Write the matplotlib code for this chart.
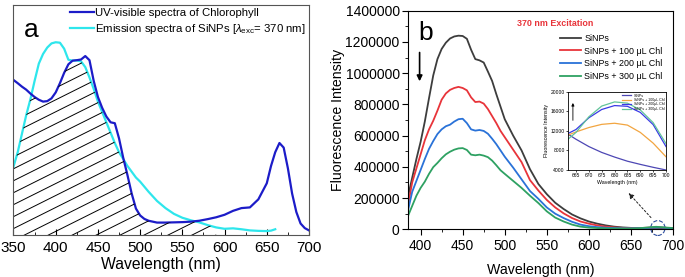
import numpy as np
import matplotlib
matplotlib.use('Agg')
import matplotlib.pyplot as plt
from matplotlib.patches import Ellipse
from matplotlib.ticker import MultipleLocator

plt.rcParams['font.family'] = 'Liberation Sans'
plt.rcParams['mathtext.fontset'] = 'custom'
plt.rcParams['mathtext.rm'] = 'Liberation Sans'
plt.rcParams['mathtext.it'] = 'Liberation Sans:italic'

# ---- panel a: absorbance of chlorophyll and emission of SiNPs (normalised) ----
wl_a = [350, 355, 360, 365, 370, 375, 380, 385, 390, 395, 400, 405, 410, 415, 420,
        425, 430, 435, 440, 445, 450, 455, 460, 465, 470, 475, 480, 485, 490, 495,
        500, 505, 510, 520, 530, 540, 550, 560, 570, 580, 590, 600, 610, 620, 630,
        640, 650, 655, 660, 665, 670, 675, 680, 685, 690, 695, 700]
chl = [0.674, 0.66, 0.645, 0.632, 0.615, 0.60, 0.588, 0.58, 0.582, 0.594, 0.62, 0.66,
       0.705, 0.742, 0.758, 0.76, 0.763, 0.778, 0.76, 0.67, 0.60, 0.553, 0.515, 0.49,
       0.486, 0.42, 0.335, 0.26, 0.18, 0.115, 0.085, 0.07, 0.062, 0.054, 0.054, 0.055,
       0.056, 0.058, 0.062, 0.069, 0.077, 0.088, 0.105, 0.117, 0.12, 0.155, 0.225,
       0.30, 0.36, 0.40, 0.38, 0.29, 0.18, 0.10, 0.05, 0.03, 0.02]
# emission spectrum stops at 660 nm
emis = [0.297, 0.36, 0.44, 0.52, 0.59, 0.67, 0.745, 0.787, 0.815, 0.833, 0.838, 0.836,
        0.81, 0.762, 0.758, 0.759, 0.755, 0.73, 0.685, 0.635, 0.58, 0.535, 0.49, 0.445,
        0.40, 0.36, 0.33, 0.30, 0.275, 0.25, 0.232, 0.21, 0.188, 0.148, 0.117, 0.092,
        0.075, 0.064, 0.055, 0.043, 0.033, 0.027, 0.029, 0.025, 0.02, 0.018, 0.017,
        0.019, 0.025]
hatch_end = 590

# ---- panel b: SiNPs emission quenched by chlorophyll ----
wl_b = [385, 390, 395, 400, 405, 410, 415, 420, 425, 430, 435, 440, 445, 450, 455,
        460, 465, 470, 475, 480, 485, 490, 495, 500, 510, 520, 530, 540, 550, 560,
        570, 580, 590, 600, 610, 620, 630, 640, 650, 660, 670, 680, 690, 700]
sinps = [210, 330, 450, 560, 690, 840, 985, 1090, 1155, 1195, 1222, 1235, 1240, 1238,
         1220, 1150, 1090, 1082, 1068, 1010, 950, 865, 785, 705, 600, 505, 385, 290,
         225, 170, 130, 95, 70, 50, 36, 25, 17, 12, 9, 7, 8, 9, 7, 5]
chl100 = [155, 300, 390, 480, 570, 640, 695, 760, 830, 870, 893, 905, 912, 905, 890,
          845, 815, 818, 805, 770, 725, 680, 630, 590, 510, 430, 315, 248, 188, 140,
          102, 72, 50, 36, 25, 17, 12, 9, 8, 8, 10, 13, 10, 6]
chl200 = [120, 240, 310, 380, 450, 515, 565, 610, 640, 660, 670, 690, 705, 708, 680,
          640, 632, 636, 630, 612, 580, 545, 505, 465, 395, 320, 245, 195, 140, 100,
          72, 48, 30, 20, 14, 10, 8, 6, 6, 7, 9, 12, 10, 6]
chl300 = [85, 150, 215, 265, 305, 355, 398, 425, 455, 480, 497, 510, 518, 520, 508,
          478, 474, 478, 472, 462, 440, 410, 378, 355, 310, 265, 215, 168, 115, 75,
          50, 30, 17, 11, 8, 6, 5, 5, 5, 7, 12, 16, 12, 8]
scale_b = 1000

# ---- inset: zoom on the chlorophyll emission region ----
wl_in = [662, 665, 670, 675, 680, 685, 690, 695, 700]
in_sinps = [11300, 10300, 8800, 7600, 6650, 5800, 5150, 4550, 4000]
in_100 = [11170, 11800, 12700, 13350, 13580, 13200, 11700, 9500, 6700]
in_200 = [11500, 12300, 14700, 16400, 17200, 17050, 15800, 13300, 8800]
in_300 = [10350, 11700, 14900, 17100, 17950, 17700, 16300, 13700, 9400]

fig = plt.figure(figsize=(6.85, 2.77), dpi=100)

# panel a
axa = fig.add_axes([0.0197, 0.1516, 0.4314, 0.8304])
wl_em = wl_a[:len(emis)]
l_em, = axa.plot(wl_em, emis, color='#2ee6ec', lw=1.6)
l_chl, = axa.plot(wl_a, chl, color='#1c1cc8', lw=1.6)

# hatched overlap area (under the lower of the two curves)
n_h = wl_a.index(hatch_end) + 1
lower = np.minimum(chl[:n_h], emis[:n_h])
poly = axa.fill_between(wl_a[:n_h], 0, lower, facecolor='none', edgecolor='none')
clip = poly.get_paths()[0]
for y0 in np.arange(-0.7, 1.0, 0.052):
    ln, = axa.plot([0, 1], [y0, y0 + 0.642], transform=axa.transAxes,
                   color='k', lw=0.7)
    ln.set_clip_path(clip, axa.transData)

axa.set_xlim(350, 700)
axa.set_ylim(0, 1)
axa.set_yticks([])
axa.xaxis.set_major_locator(MultipleLocator(50))
axa.xaxis.set_minor_locator(MultipleLocator(25))
axa.tick_params(axis='x', which='both', direction='in', labelsize=11, pad=4)
axa.tick_params(axis='x', which='major', length=4)
axa.tick_params(axis='x', which='minor', length=2)
for s in axa.spines.values():
    s.set_color('#555555')
axa.set_xlabel('Wavelength (nm)', fontsize=11.3, labelpad=2)
axa.text(0.035, 0.86, 'a', transform=axa.transAxes, fontsize=19)
axa.legend([l_chl, l_em],
           ['UV-visible spectra of Chlorophyll',
            r'Emission spectra of SiNPs [$\lambda_{\mathrm{exc}}$= 370 nm]'],
           loc='upper right', bbox_to_anchor=(1.0, 1.0), frameon=False,
           fontsize=8.2, handlelength=2.1, handletextpad=0.1,
           labelspacing=0.3, borderaxespad=0.0, borderpad=0.3)

# panel b
axb = fig.add_axes([0.5956, 0.1722, 0.3869, 0.7892])
b_colors = ['#3d3d3d', '#e8343a', '#2a72d8', '#2ea162']
b_labels = ['SiNPs', 'SiNPs + 100 μL Chl', 'SiNPs + 200 μL Chl', 'SiNPs + 300 μL Chl']
for vals, c, lab in zip([sinps, chl100, chl200, chl300], b_colors, b_labels):
    axb.plot(wl_b, np.array(vals) * scale_b, color=c, lw=1.3, label=lab)
axb.set_xlim(385, 700)
axb.set_ylim(0, 1400000)
axb.xaxis.set_major_locator(MultipleLocator(50))
axb.xaxis.set_minor_locator(MultipleLocator(25))
axb.yaxis.set_major_locator(MultipleLocator(200000))
axb.yaxis.set_minor_locator(MultipleLocator(100000))
axb.ticklabel_format(style='plain', axis='y')
axb.tick_params(which='both', direction='out', labelsize=10, pad=2)
axb.tick_params(axis='x', which='both', pad=3)
axb.tick_params(which='major', length=4)
axb.tick_params(which='minor', length=2)
axb.set_xlabel('Wavelength (nm)', fontsize=10.2, labelpad=7)
axb.set_ylabel('Fluorescence Intensity', fontsize=10.2, labelpad=0)
axb.legend(loc='upper right', bbox_to_anchor=(0.99, 0.93), frameon=False,
           fontsize=6.4, handlelength=2.4, handletextpad=0.3, labelspacing=0.4)
axb.text(0.555, 0.94, '370 nm Excitation', transform=axb.transAxes, ha='center',
         va='center', color='#e8343a', fontsize=6.4, fontweight='bold')
axb.text(0.04, 0.866, 'b', transform=axb.transAxes, fontsize=19)
axb.annotate('', xy=(398.8, 930000), xytext=(398.8, 1150000),
             arrowprops=dict(arrowstyle='-|>', color='k', lw=1.2, mutation_scale=8))
axb.add_patch(Ellipse((682, 8000), 17, 95000, fill=False, ls='--',
                      ec='#2f4f9f', lw=0.8, clip_on=False))
axb.annotate('', xy=(645, 245000), xytext=(676, 62000),
             arrowprops=dict(arrowstyle='-|>', color='#222222', lw=0.7,
                             ls=(0, (2, 2)), mutation_scale=8))

# inset
axi = fig.add_axes([0.8296, 0.3863, 0.1427, 0.2819])
in_colors = ['#4d47b4', '#f2a540', '#3a3ae6', '#62c49a']
in_labels = ['SiNPs', 'SiNPs + 100μL Chl', 'SiNPs + 200μL Chl', 'SiNPs + 300μL Chl']
for vals, c, lab in zip([in_sinps, in_100, in_200, in_300], in_colors, in_labels):
    axi.plot(wl_in, vals, color=c, lw=0.9, label=lab)
axi.set_xlim(662, 700)
axi.set_ylim(4000, 20000)
axi.xaxis.set_major_locator(MultipleLocator(5))
axi.yaxis.set_major_locator(MultipleLocator(4000))
axi.tick_params(labelsize=3.6, length=1.5, width=0.5, pad=1)
for s in axi.spines.values():
    s.set_linewidth(0.6)
axi.set_xlabel('Wavelength (nm)', fontsize=3.8, labelpad=1)
axi.set_ylabel('Fluorescence Intensity', fontsize=3.8, labelpad=1)
axi.legend(loc='upper right', frameon=False, fontsize=2.6, handlelength=2.5,
           labelspacing=0.1, borderaxespad=0.1)
axi.annotate('', xy=(663.8, 18300), xytext=(663.8, 13600),
             arrowprops=dict(arrowstyle='-|>', color='k', lw=0.6, mutation_scale=4))

fig.savefig('out.png', dpi=100)
